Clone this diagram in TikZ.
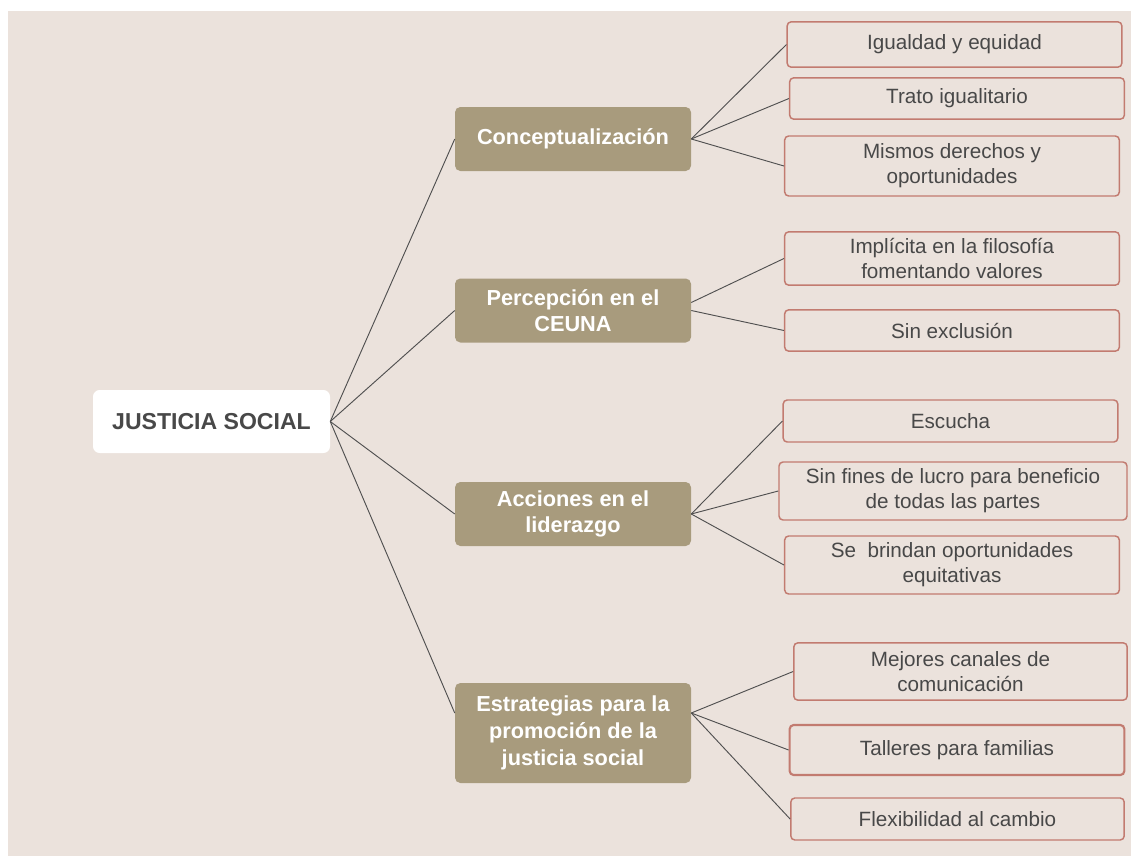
\documentclass[tikz,border=0pt]{standalone}
\usepackage{fontspec}
\setmainfont{Liberation Sans}
\usepackage{tikz}
\usetikzlibrary{positioning,calc}
\usepackage{xcolor}
\definecolor{paper}{HTML}{EBE2DC}
\definecolor{taupe}{HTML}{A89B7D}
\definecolor{rose}{HTML}{C27B70}
\definecolor{inkgray}{HTML}{484848}
\definecolor{linegray}{HTML}{505050}
\tikzset{
  jsroot/.style={fill=white, rounded corners=5pt, inner sep=0pt, text=inkgray,
    minimum width=177.75pt, minimum height=47.25pt, font=\bfseries\fontsize{17.3}{20}\selectfont},
  jsmain/.style={fill=taupe, rounded corners=4pt, inner sep=0pt, text=white, align=center,
    minimum width=177pt, minimum height=48pt, font=\bfseries\fontsize{16.3}{20}\selectfont},
  jsleaf/.style={draw=rose, fill=paper, line width=1.1pt, rounded corners=3pt, inner sep=0pt,
    text=inkgray, align=center, minimum width=251pt, font=\fontsize{15.5}{18.75}\selectfont},
  jslink/.style={draw=linegray, line width=0.7pt},
}
\begin{document}
\begin{tikzpicture}[x=0.75pt,y=-0.75pt]
  \useasboundingbox (0,0) rectangle (1131,856);
  \fill[paper] (8,11) rectangle (1131,856);

  % centre and the four themes
  \node[jsroot] (root) at (211.5,421.5) {JUSTICIA SOCIAL};
  \node[jsmain] (concept) at (573,139) {Conceptualización};
  \node[jsmain] (percep) at (573,310.5) {Percepción en el\\CEUNA};
  \node[jsmain] (accion) at (573,514) {Acciones en el\\liderazgo};
  \node[jsmain, minimum height=75pt] (estrat) at (573,733)
    {Estrategias para la\\promoción de la\\justicia social};

  % leaves
  \node[jsleaf, minimum height=34pt] (igual) at (954.5,44.5) {Igualdad y equidad};
  \node[jsleaf, minimum height=31pt] (trato) at (957,98.5) {Trato igualitario};
  \node[jsleaf, minimum height=45pt] (mismos) at (952,166) {Mismos derechos y\\oportunidades};
  \node[jsleaf, minimum height=40pt] (implic) at (952,258.5)
    {Implícita en la filosofía\\fomentando valores};
  \node[jsleaf, minimum height=31pt] (sinex) at (952,330.5) {Sin exclusión};
  \node[jsleaf, minimum height=31.5pt] (escucha) at (950.5,421) {Escucha};
  \node[jsleaf, minimum width=261pt, minimum height=43.5pt] (lucro) at (953,491)
    {Sin fines de lucro para beneficio\\de todas las partes};
  \node[jsleaf, minimum height=43.5pt] (brindan) at (952,565)
    {Se\ \ brindan oportunidades\\equitativas};
  \node[jsleaf, minimum width=250pt, minimum height=43pt] (canales) at (960.5,671.5)
    {Mejores canales de\\comunicación};
  \node[jsleaf, line width=1.6pt, minimum height=37.5pt] (taller) at (957,750)
    {Talleres para familias};
  \node[jsleaf, minimum width=250pt, minimum height=31.5pt] (flexi) at (957.5,819)
    {Flexibilidad al cambio};

  \coordinate (estratW) at ([yshift=15pt]estrat.west);
  \coordinate (estratE) at ([yshift=15pt]estrat.east);

  \draw[jslink] (root.east) -- (concept.west);
  \draw[jslink] (root.east) -- (percep.west);
  \draw[jslink] (root.east) -- (accion.west);
  \draw[jslink] (root.east) -- (estratW);

  \draw[jslink] (concept.east) -- (igual.west);
  \draw[jslink] (concept.east) -- (trato.west);
  \draw[jslink] (concept.east) -- (mismos.west);
  \draw[jslink] ([yshift=6pt]percep.east) -- (implic.west);
  \draw[jslink] (percep.east) -- (sinex.west);
  \draw[jslink] (accion.east) -- (escucha.west);
  \draw[jslink] (accion.east) -- (lucro.west);
  \draw[jslink] (accion.east) -- (brindan.west);
  \draw[jslink] (estratE) -- (canales.west);
  \draw[jslink] (estratE) -- (taller.west);
  \draw[jslink] (estratE) -- (flexi.west);
\end{tikzpicture}
\end{document}
